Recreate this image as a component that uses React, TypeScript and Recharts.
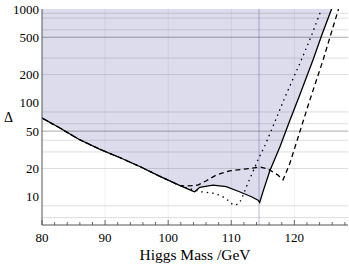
import React from 'react';
import { ComposedChart, Line, Area, XAxis, YAxis, ReferenceLine } from 'recharts';

const SERIF = '"Liberation Serif", "Times New Roman", "DejaVu Serif", serif';

// shared low-mass part of all three curves
const sharedMass = [80, 82.7, 85.9, 89.1, 92.3, 95.5, 98.6, 101.8];
const sharedDelta = [69, 54.6, 40.7, 32.2, 26.2, 21.0, 16.6, 13.2];

// solid curve (boundary of shaded region)
const solidMass = [103.9, 104.2, 105.0, 107.1, 109.2, 111.3, 113.2, 114.25, 114.5, 115.0, 116.1, 117.7, 119.25, 120.85, 122.95, 124.35, 125.9];
const solidDelta = [11.5, 11.3, 12.6, 13.3, 12.8, 11.3, 10.0, 9.2, 8.7, 11.2, 18.8, 33.8, 64, 121, 286, 528, 1000];

// dashed curve
const dashedMass = [102.9, 104.7, 106.05, 107.6, 109.75, 111.85, 113.4, 114.5, 115.8, 117.4, 118.2, 119.25, 120.85, 122.45, 124.55, 125.75, 127.0];
const dashedDelta = [13.0, 13.3, 14.8, 17.0, 18.9, 19.6, 20.2, 20.8, 19.8, 17.0, 15.1, 22.3, 48.9, 107, 286, 528, 1000];

// dotted curve
const dottedMass = [103.0, 105.2, 107.1, 108.15, 108.95, 109.75, 110.3, 111.05, 111.6, 112.4, 113.2, 114.2, 115.3, 116.9, 118.45, 121.1, 122.75, 124.3];
const dottedDelta = [12.4, 11.3, 10.9, 10.4, 9.76, 8.85, 8.15, 8.3, 9.3, 12.8, 17.0, 24.5, 34.7, 62.5, 112.6, 286, 528, 1000];

const xMinorTicks = [80, 82, 84, 86, 88, 90, 92, 94, 96, 98, 100, 102, 104, 106, 108, 110, 112, 114, 116, 118, 120, 122, 124, 126, 128];
const yTicks = [10, 20, 50, 100, 200, 500, 1000];
const gridDelta = [900, 800, 600, 300, 200, 80, 60, 40, 30, 20, 8, 6];
const strongGridDelta = [500, 50];
const gridMass = [90, 100, 110, 120];
const lepBound = 114.4;

const build = (ms: number[], ds: number[]) => ms.map((m, i) => ({ m, d: ds[i] }));

const solidData = build([...sharedMass, ...solidMass], [...sharedDelta, ...solidDelta]);
const dashedData = build([...sharedMass, ...dashedMass], [...sharedDelta, ...dashedDelta]);
const dottedData = build([...sharedMass, ...dottedMass], [...sharedDelta, ...dottedDelta]);
const areaData = solidData.map((p) => ({ m: p.m, range: [p.d, 1000] }));

const textStyle = { fontFamily: SERIF };

const BottomTick = (props: any) => {
  const { x, y, payload } = props;
  const v = payload.value;
  const major = v % 10 === 0;
  return (
    <g>
      <line x1={x} y1={y} x2={x} y2={y - (major ? 5 : 3)} stroke="#444" strokeWidth={0.8} />
      {major && (
        <text x={x} y={y + 17} textAnchor="middle" fontSize={13} fontFamily={SERIF} style={textStyle} fill="#000">
          {v}
        </text>
      )}
    </g>
  );
};

const LeftTick = (props: any) => {
  const { x, y, payload } = props;
  return (
    <text x={x} y={y} dy="0.35em" textAnchor="end" fontSize={13} fontFamily={SERIF} style={textStyle} fill="#000">
      {payload.value}
    </text>
  );
};

const TopTick = (props: any) => {
  const { x, y, payload } = props;
  const v = payload.value;
  const major = v % 10 === 0;
  return <line x1={x} y1={y} x2={x} y2={y + (major ? 5 : 3)} stroke="#555" strokeWidth={0.8} />;
};

export default function App() {
  return (
    <div style={{ position: 'absolute', left: 0, top: 0, fontFamily: SERIF }}>
      <ComposedChart width={349} height={273} margin={{ top: 9, right: 1, left: 0, bottom: 0 }} style={textStyle}>
        <XAxis
          xAxisId={0}
          dataKey="m"
          type="number"
          domain={[80, 128.5]}
          allowDataOverflow
          ticks={xMinorTicks}
          interval={0}
          tick={<BottomTick />}
          tickLine={false}
          tickSize={0}
          tickMargin={0}
          height={48}
          axisLine={{ stroke: '#555', strokeWidth: 1 }}
          label={{ value: 'Higgs Mass /GeV', position: 'insideBottom', offset: 13, fontSize: 15.5, fontFamily: SERIF, style: textStyle, fill: '#000' }}
        />
        <XAxis
          xAxisId="top"
          orientation="top"
          dataKey="m"
          type="number"
          domain={[80, 128.5]}
          allowDataOverflow
          ticks={xMinorTicks}
          interval={0}
          tick={<TopTick />}
          tickLine={false}
          tickSize={0}
          tickMargin={0}
          height={0}
          axisLine={false}
        />
        <YAxis
          type="number"
          scale="log"
          domain={[5, 1000]}
          allowDataOverflow
          ticks={yTicks}
          interval={0}
          width={42}
          tickLine={false}
          tickSize={0}
          tickMargin={3}
          axisLine={{ stroke: '#555', strokeWidth: 1 }}
          tick={<LeftTick />}
          label={{ value: 'Δ', position: 'insideLeft', offset: 4, fontSize: 14, fontFamily: SERIF, style: textStyle, fill: '#000' }}
        />
        <Area
          data={areaData}
          dataKey="range"
          type="linear"
          fill="#6b6bb5"
          fillOpacity={0.24}
          stroke="none"
          isAnimationActive={false}
        />
        {gridDelta.map((v) => (
          <ReferenceLine key={'h' + v} y={v} stroke="#000" strokeOpacity={0.13} strokeWidth={1} />
        ))}
        {strongGridDelta.map((v) => (
          <ReferenceLine key={'s' + v} y={v} stroke="#000" strokeOpacity={0.33} strokeWidth={1} />
        ))}
        {gridMass.map((v) => (
          <ReferenceLine key={'v' + v} x={v} stroke="#000" strokeOpacity={0.06} strokeWidth={1} />
        ))}
        <ReferenceLine x={lepBound} stroke="#5a5a96" strokeOpacity={0.35} strokeWidth={1.2} />
        <Line data={dottedData} dataKey="d" type="linear" stroke="#000" strokeWidth={1.3} strokeDasharray="1.5 4" dot={false} isAnimationActive={false} />
        <Line data={dashedData} dataKey="d" type="linear" stroke="#000" strokeWidth={1.3} strokeDasharray="5 3.5" dot={false} isAnimationActive={false} />
        <Line data={solidData} dataKey="d" type="linear" stroke="#000" strokeWidth={1.3} dot={false} isAnimationActive={false} />
      </ComposedChart>
    </div>
  );
}
